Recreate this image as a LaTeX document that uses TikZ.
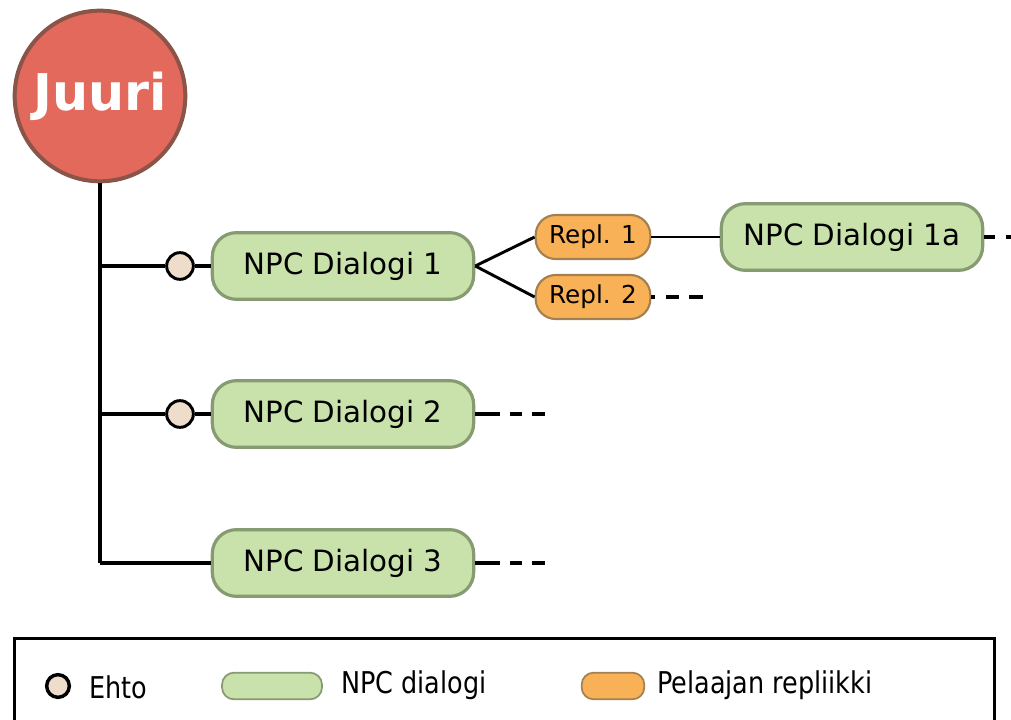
\documentclass[tikz,border=0pt]{standalone}
\usepackage{fontspec}
\setmainfont{DejaVu Sans}
\newfontfamily\legendfont[FakeStretch=0.85]{DejaVu Sans}
\definecolor{rootfill}{HTML}{E2695B}
\definecolor{rootline}{HTML}{8A5548}
\definecolor{npcfill}{HTML}{C9E1AB}
\definecolor{npcline}{HTML}{879B72}
\definecolor{replfill}{HTML}{F9B157}
\definecolor{replline}{HTML}{A3804F}
\definecolor{condfill}{HTML}{EEDDCA}
\tikzset{
  root/.style={circle, fill=rootfill, draw=rootline, line width=3pt,
    minimum size=128pt, inner sep=0pt, text=white,
    font=\fontsize{38}{40}\selectfont\bfseries},
  npc/.style={rounded corners=18pt, fill=npcfill, draw=npcline, line width=2.4pt,
    minimum width=196pt, minimum height=50pt, inner sep=0pt,
    font=\fontsize{22}{26}\selectfont},
  repl/.style={rounded corners=15pt, fill=replfill, draw=replline, line width=1.6pt,
    minimum width=86pt, minimum height=33pt, inner sep=0pt,
    font=\fontsize{18.5}{22}\selectfont},
  cond/.style={circle, fill=condfill, draw=black, line width=2.2pt,
    minimum size=20pt, inner sep=0pt},
  link/.style={draw=black, line width=3.2pt},
  thinlink/.style={draw=black, line width=2.2pt},
  moredash/.style={draw=black, line width=2.8pt,
    dash pattern=on 18.75pt off 7.5pt on 9pt off 7.5pt on 9.75pt off 60pt},
  moreshort/.style={draw=black, line width=2.6pt,
    dash pattern=on 3pt off 8pt on 10pt off 7.5pt on 10pt off 60pt},
  moreedge/.style={draw=black, line width=2.8pt,
    dash pattern=on 8pt off 8pt on 30pt},
  legendtext/.style={anchor=west, inner sep=0pt, font=\legendfont\fontsize{22.5}{26}\selectfont},
}
\begin{document}
\begin{tikzpicture}[x=0.75pt, y=-0.75pt]
\useasboundingbox (0,0) rectangle (1011,720);
\clip (0,0) rectangle (1011,720);

% tree
\node[root] (root) at (100,96) {Juuri};
\coordinate (b1) at (100,266);
\coordinate (b2) at (100,414);
\coordinate (b3) at (100,563);

\node[cond] (c1) at (180,266) {};
\node[cond] (c2) at (180,414) {};

\node[npc] (d1) at (343,266) {NPC Dialogi 1};
\node[npc] (d2) at (343,414) {NPC Dialogi 2};
\node[npc] (d3) at (343,563) {NPC Dialogi 3};

\node[repl] (r1) at (593,237) {Repl. 1};
\node[repl] (r2) at (593,297) {Repl. 2};

\node[npc] (d1a) at (852,237) {NPC Dialogi 1a};

\coordinate (e2) at (560,414);
\coordinate (e3) at (560,563);
\coordinate (er2) at (720,297);
\coordinate (e1a) at (1030,237);

% connectors
\draw[link] (root.south) -- (b3);
\draw[link] (b1) -- (c1.west);
\draw[link] (c1.east) -- (d1.west);
\draw[link] (b2) -- (c2.west);
\draw[link] (c2.east) -- (d2.west);
\draw[link] (b3) -- (d3.west);

\draw[thinlink] (d1.east) -- (r1.west);
\draw[thinlink] (d1.east) -- (r2.west);
\draw[thinlink] (r1.east) -- (d1a.west);

\draw[moredash] (d2.east) -- (e2);
\draw[moredash] (d3.east) -- (e3);
\draw[moreshort] (r2.east) -- (er2);
\draw[moreedge] (d1a.east) -- (e1a);

% legend
\node[draw=black, line width=2.4pt, minimum width=735pt, minimum height=80pt,
  anchor=north west, inner sep=0pt] (legend) at (13,637) {};
\node[cond, minimum size=17pt, line width=2.6pt] (lc) at (58,686) {};
\node[legendtext] (lct) at (89,687) {Ehto};
\node[rounded corners=9pt, fill=npcfill, draw=npcline, line width=1.3pt,
  minimum width=75pt, minimum height=20pt, inner sep=0pt] (ln) at (272,686) {};
\node[legendtext] (lnt) at (341,685) {NPC dialogi};
\node[rounded corners=9pt, fill=replfill, draw=replline, line width=1.3pt,
  minimum width=47pt, minimum height=20pt, inner sep=0pt] (lr) at (613,686) {};
\node[legendtext] (lrt) at (657,685) {Pelaajan repliikki};
\end{tikzpicture}
\end{document}
